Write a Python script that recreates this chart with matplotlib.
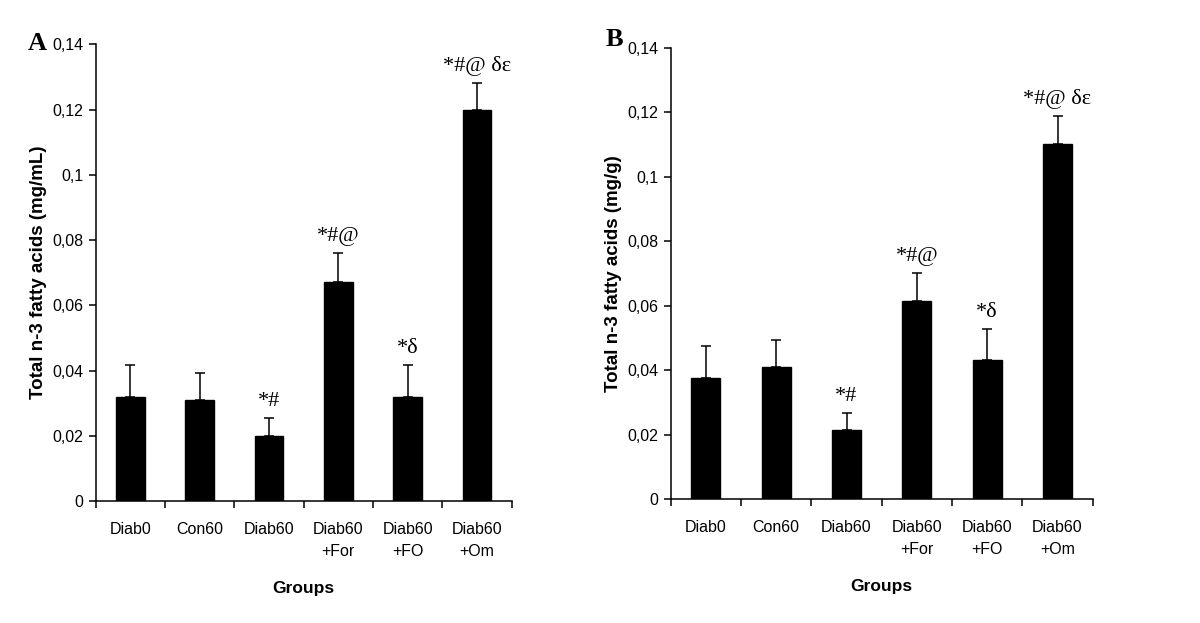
import matplotlib
matplotlib.use("Agg")
import matplotlib.pyplot as plt
import numpy as np

groups = ["Diab0", "Con60", "Diab60", "Diab60\n+For", "Diab60\n+FO", "Diab60\n+Om"]

plasma_means = [0.032, 0.031, 0.020, 0.067, 0.032, 0.120]
plasma_errs = [0.0097, 0.0083, 0.0054, 0.0091, 0.0097, 0.0082]
plasma_marks = ["", "", "*#", "*#@", "*\u03b4", "*#@ \u03b4\u03b5"]

tissue_means = [0.0376, 0.041, 0.0213, 0.0613, 0.0431, 0.110]
tissue_errs = [0.0099, 0.0084, 0.0053, 0.0088, 0.0096, 0.0089]
tissue_marks = ["", "", "*#", "*#@", "*\u03b4", "*#@ \u03b4\u03b5"]

yticks = [0, 0.02, 0.04, 0.06, 0.08, 0.1, 0.12, 0.14]
ytick_labels = ["0", "0,02", "0,04", "0,06", "0,08", "0,1", "0,12", "0,14"]

SANS = "Liberation Sans"
SERIF = "Liberation Serif"
tick_fs = 11.5
grp_fs = 12.5

fig = plt.figure(figsize=(12, 6.23), dpi=100)

def panel(rect, means, errs, marks, ylabel, letter, letter_pos, ylabel_x):
    ax = fig.add_axes(rect)
    n = len(groups)
    x = np.arange(n)
    ax.bar(x, means, width=0.41, color="black", edgecolor="black", zorder=2)
    ax.errorbar(x, means, yerr=[np.zeros(n), errs], fmt="none", ecolor="black",
                elinewidth=1.1, capsize=3.3, capthick=1.1, zorder=3)
    for xi, m, e, t in zip(x, means, errs, marks):
        if t:
            ax.annotate(t, (xi, m + e), xytext=(0, 5), textcoords="offset points",
                        ha="center", va="bottom", fontsize=16, family=SERIF)
    ax.set_xlim(-0.5, n - 0.5)
    ax.set_ylim(0, 0.14)
    ax.set_yticks(yticks)
    ax.set_yticklabels(ytick_labels, fontsize=tick_fs, family=SANS)
    ax.set_xticks(np.arange(n + 1) - 0.5)
    ax.set_xticklabels([])
    ax.set_xticks(x, minor=True)
    ax.set_xticklabels(groups, minor=True, fontsize=tick_fs, family=SANS, linespacing=1.6)
    ax.tick_params(axis="x", which="major", direction="out", length=5, width=1.1)
    ax.tick_params(axis="x", which="minor", length=0, pad=15)
    ax.tick_params(axis="y", direction="out", length=5, width=1.1, pad=4)
    for s in ["top", "right"]:
        ax.spines[s].set_visible(False)
    for s in ["left", "bottom"]:
        ax.spines[s].set_linewidth(1.1)
    ax.set_xlabel("Groups", fontsize=grp_fs, fontweight="bold", family=SANS, labelpad=16)
    ax.set_ylabel(ylabel, fontsize=13.5, fontweight="bold", family=SANS)
    ax.yaxis.set_label_coords(ylabel_x, 0.5)
    fig.text(letter_pos[0], letter_pos[1], letter, fontsize=19, fontweight="bold",
             family=SERIF, ha="center", va="center")
    return ax

panel([0.0797, 0.1958, 0.3467, 0.7331], plasma_means, plasma_errs, plasma_marks,
      "Total n-3 fatty acids (mg/mL)", "A", (0.031, 1 - 43 / 623), -0.117)
panel([0.5589, 0.1990, 0.3517, 0.7244], tissue_means, tissue_errs, tissue_marks,
      "Total n-3 fatty acids (mg/g)", "B", (0.512, 1 - 40 / 623), -0.115)

fig.savefig("out.png", dpi=100)
